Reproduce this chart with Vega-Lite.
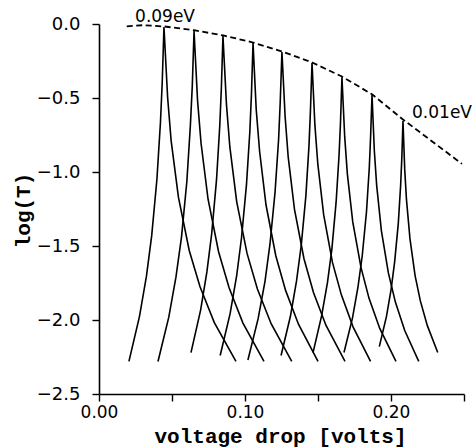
{
  "$schema": "https://vega.github.io/schema/vega-lite/v6.json",
  "autosize": "none",
  "width": 365,
  "height": 370,
  "padding": {"left": 99, "top": 24, "right": 10, "bottom": 54},
  "background": "white",
  "config": {
    "view": {"stroke": null},
    "axis": {
      "grid": false,
      "domainColor": "black",
      "domainWidth": 1.6,
      "tickColor": "black",
      "tickWidth": 1.4,
      "tickSize": 7,
      "labelColor": "black",
      "labelFont": "DejaVu Sans",
      "labelFontSize": 18,
      "labelFlush": false,
      "labelOverlap": false,
      "titleColor": "black",
      "titleFont": "Liberation Mono",
      "titleFontSize": 21,
      "titleFontWeight": "bold"
    }
  },
  "datasets": {
    "curves": [
      {"c": 1, "v": 0.0205, "t": -2.28}, {"c": 1, "v": 0.0277, "t": -1.977}, {"c": 1, "v": 0.0325, "t": -1.704}, {"c": 1, "v": 0.0361, "t": -1.43}, {"c": 1, "v": 0.0397, "t": -1.046}, {"c": 1, "v": 0.0421, "t": -0.664}, {"c": 1, "v": 0.0433, "t": -0.395}, {"c": 1, "v": 0.0445, "t": -0.02}, {"c": 1, "v": 0.047, "t": -0.495}, {"c": 1, "v": 0.0494, "t": -0.788}, {"c": 1, "v": 0.0544, "t": -1.17}, {"c": 1, "v": 0.0618, "t": -1.53}, {"c": 1, "v": 0.0692, "t": -1.776}, {"c": 1, "v": 0.079, "t": -2.018}, {"c": 1, "v": 0.0938, "t": -2.28},
      {"c": 2, "v": 0.0404, "t": -2.28}, {"c": 2, "v": 0.0478, "t": -1.981}, {"c": 2, "v": 0.0527, "t": -1.711}, {"c": 2, "v": 0.0565, "t": -1.44}, {"c": 2, "v": 0.0602, "t": -1.061}, {"c": 2, "v": 0.0626, "t": -0.683}, {"c": 2, "v": 0.0639, "t": -0.418}, {"c": 2, "v": 0.0651, "t": -0.047}, {"c": 2, "v": 0.0675, "t": -0.516}, {"c": 2, "v": 0.0699, "t": -0.806}, {"c": 2, "v": 0.0747, "t": -1.184}, {"c": 2, "v": 0.0819, "t": -1.539}, {"c": 2, "v": 0.0891, "t": -1.782}, {"c": 2, "v": 0.0986, "t": -2.021}, {"c": 2, "v": 0.113, "t": -2.28},
      {"c": 3, "v": 0.063, "t": -2.22}, {"c": 3, "v": 0.0696, "t": -1.933}, {"c": 3, "v": 0.0739, "t": -1.675}, {"c": 3, "v": 0.0772, "t": -1.416}, {"c": 3, "v": 0.0805, "t": -1.052}, {"c": 3, "v": 0.0827, "t": -0.691}, {"c": 3, "v": 0.0838, "t": -0.436}, {"c": 3, "v": 0.0849, "t": -0.081}, {"c": 3, "v": 0.0873, "t": -0.543}, {"c": 3, "v": 0.0896, "t": -0.829}, {"c": 3, "v": 0.0943, "t": -1.2}, {"c": 3, "v": 0.1014, "t": -1.55}, {"c": 3, "v": 0.1085, "t": -1.79}, {"c": 3, "v": 0.1179, "t": -2.025}, {"c": 3, "v": 0.132, "t": -2.28},
      {"c": 4, "v": 0.083, "t": -2.24}, {"c": 4, "v": 0.0898, "t": -1.957}, {"c": 4, "v": 0.0943, "t": -1.701}, {"c": 4, "v": 0.0976, "t": -1.446}, {"c": 4, "v": 0.101, "t": -1.087}, {"c": 4, "v": 0.1033, "t": -0.73}, {"c": 4, "v": 0.1044, "t": -0.479}, {"c": 4, "v": 0.1055, "t": -0.128}, {"c": 4, "v": 0.1077, "t": -0.58}, {"c": 4, "v": 0.11, "t": -0.86}, {"c": 4, "v": 0.1144, "t": -1.223}, {"c": 4, "v": 0.1211, "t": -1.566}, {"c": 4, "v": 0.1278, "t": -1.8}, {"c": 4, "v": 0.1367, "t": -2.03}, {"c": 4, "v": 0.15, "t": -2.28},
      {"c": 5, "v": 0.102, "t": -2.27}, {"c": 5, "v": 0.109, "t": -1.991}, {"c": 5, "v": 0.1137, "t": -1.739}, {"c": 5, "v": 0.1171, "t": -1.488}, {"c": 5, "v": 0.1206, "t": -1.134}, {"c": 5, "v": 0.123, "t": -0.782}, {"c": 5, "v": 0.1241, "t": -0.534}, {"c": 5, "v": 0.1253, "t": -0.189}, {"c": 5, "v": 0.1275, "t": -0.628}, {"c": 5, "v": 0.1296, "t": -0.9}, {"c": 5, "v": 0.1339, "t": -1.253}, {"c": 5, "v": 0.1404, "t": -1.586}, {"c": 5, "v": 0.1469, "t": -1.814}, {"c": 5, "v": 0.1555, "t": -2.037}, {"c": 5, "v": 0.1685, "t": -2.28},
      {"c": 6, "v": 0.1247, "t": -2.24}, {"c": 6, "v": 0.1311, "t": -1.975}, {"c": 6, "v": 0.1353, "t": -1.736}, {"c": 6, "v": 0.1385, "t": -1.497}, {"c": 6, "v": 0.1417, "t": -1.161}, {"c": 6, "v": 0.1438, "t": -0.827}, {"c": 6, "v": 0.1448, "t": -0.592}, {"c": 6, "v": 0.1459, "t": -0.264}, {"c": 6, "v": 0.1479, "t": -0.687}, {"c": 6, "v": 0.1499, "t": -0.949}, {"c": 6, "v": 0.1539, "t": -1.29}, {"c": 6, "v": 0.1599, "t": -1.611}, {"c": 6, "v": 0.166, "t": -1.83}, {"c": 6, "v": 0.174, "t": -2.046}, {"c": 6, "v": 0.186, "t": -2.28},
      {"c": 7, "v": 0.1466, "t": -2.22}, {"c": 7, "v": 0.1525, "t": -1.971}, {"c": 7, "v": 0.1565, "t": -1.746}, {"c": 7, "v": 0.1595, "t": -1.521}, {"c": 7, "v": 0.1624, "t": -1.204}, {"c": 7, "v": 0.1644, "t": -0.89}, {"c": 7, "v": 0.1654, "t": -0.669}, {"c": 7, "v": 0.1664, "t": -0.36}, {"c": 7, "v": 0.1683, "t": -0.763}, {"c": 7, "v": 0.1701, "t": -1.013}, {"c": 7, "v": 0.1738, "t": -1.337}, {"c": 7, "v": 0.1794, "t": -1.643}, {"c": 7, "v": 0.1849, "t": -1.852}, {"c": 7, "v": 0.1923, "t": -2.057}, {"c": 7, "v": 0.2034, "t": -2.28},
      {"c": 8, "v": 0.1678, "t": -2.22}, {"c": 8, "v": 0.1736, "t": -1.987}, {"c": 8, "v": 0.1774, "t": -1.776}, {"c": 8, "v": 0.1803, "t": -1.566}, {"c": 8, "v": 0.1832, "t": -1.27}, {"c": 8, "v": 0.1851, "t": -0.976}, {"c": 8, "v": 0.186, "t": -0.769}, {"c": 8, "v": 0.187, "t": -0.48}, {"c": 8, "v": 0.1886, "t": -0.858}, {"c": 8, "v": 0.1902, "t": -1.092}, {"c": 8, "v": 0.1934, "t": -1.396}, {"c": 8, "v": 0.1982, "t": -1.682}, {"c": 8, "v": 0.203, "t": -1.879}, {"c": 8, "v": 0.2094, "t": -2.071}, {"c": 8, "v": 0.219, "t": -2.28},
      {"c": 9, "v": 0.192, "t": -2.18}, {"c": 9, "v": 0.1969, "t": -1.976}, {"c": 9, "v": 0.2001, "t": -1.791}, {"c": 9, "v": 0.2025, "t": -1.607}, {"c": 9, "v": 0.205, "t": -1.347}, {"c": 9, "v": 0.2066, "t": -1.09}, {"c": 9, "v": 0.2074, "t": -0.908}, {"c": 9, "v": 0.2082, "t": -0.655}, {"c": 9, "v": 0.2094, "t": -0.984}, {"c": 9, "v": 0.2106, "t": -1.187}, {"c": 9, "v": 0.213, "t": -1.452}, {"c": 9, "v": 0.2165, "t": -1.7}, {"c": 9, "v": 0.2201, "t": -1.871}, {"c": 9, "v": 0.2249, "t": -2.038}, {"c": 9, "v": 0.232, "t": -2.22}
    ],
    "envelope": [
      {"v": 0.019, "t": -0.016}, {"v": 0.03, "t": -0.008}, {"v": 0.045, "t": -0.017}, {"v": 0.065, "t": -0.042},
      {"v": 0.085, "t": -0.077}, {"v": 0.1055, "t": -0.125}, {"v": 0.125, "t": -0.185}, {"v": 0.146, "t": -0.26},
      {"v": 0.1664, "t": -0.355}, {"v": 0.187, "t": -0.475}, {"v": 0.2082, "t": -0.645}, {"v": 0.2486, "t": -0.945}
    ],
    "labels": [
      {"v": 0.0247, "t": 0.015, "label": "0.09eV"},
      {"v": 0.2144, "t": -0.635, "label": "0.01eV"}
    ]
  },
  "layer": [
    {
      "data": {"name": "curves"},
      "mark": {"type": "line", "color": "black", "strokeWidth": 1.6},
      "encoding": {
        "x": {
          "field": "v", "type": "quantitative",
          "scale": {"domain": [0, 0.25], "nice": false, "zero": false},
          "axis": {
            "title": "voltage drop [volts]",
            "values": [0, 0.05, 0.1, 0.15, 0.2, 0.25],
            "labelExpr": "(round(datum.value * 20) % 2 == 0 && datum.value < 0.24) ? format(datum.value, '.2f') : ''",
            "labelPadding": 3,
            "labelFontSize": 17,
            "titleBaseline": "alphabetic",
            "titleY": 48,
            "titleX": 181
          }
        },
        "y": {
          "field": "t", "type": "quantitative",
          "scale": {"domain": [-2.5, 0], "nice": false, "zero": false},
          "axis": {
            "title": "log(T)",
            "values": [-2.5, -2, -1.5, -1, -0.5, 0],
            "format": ".1f",
            "labelPadding": 12,
            "titleX": -66,
            "titleY": 186
          }
        },
        "detail": {"field": "c", "type": "nominal"}
      }
    },
    {
      "data": {"name": "envelope"},
      "mark": {"type": "line", "color": "black", "strokeWidth": 1.8, "strokeDash": [6, 3.5]},
      "encoding": {
        "x": {"field": "v", "type": "quantitative"},
        "y": {"field": "t", "type": "quantitative"}
      }
    },
    {
      "data": {"name": "labels"},
      "mark": {"type": "text", "align": "left", "baseline": "alphabetic", "font": "DejaVu Sans", "fontSize": 17, "color": "black"},
      "encoding": {
        "x": {"field": "v", "type": "quantitative"},
        "y": {"field": "t", "type": "quantitative"},
        "text": {"field": "label", "type": "nominal"}
      }
    }
  ]
}
